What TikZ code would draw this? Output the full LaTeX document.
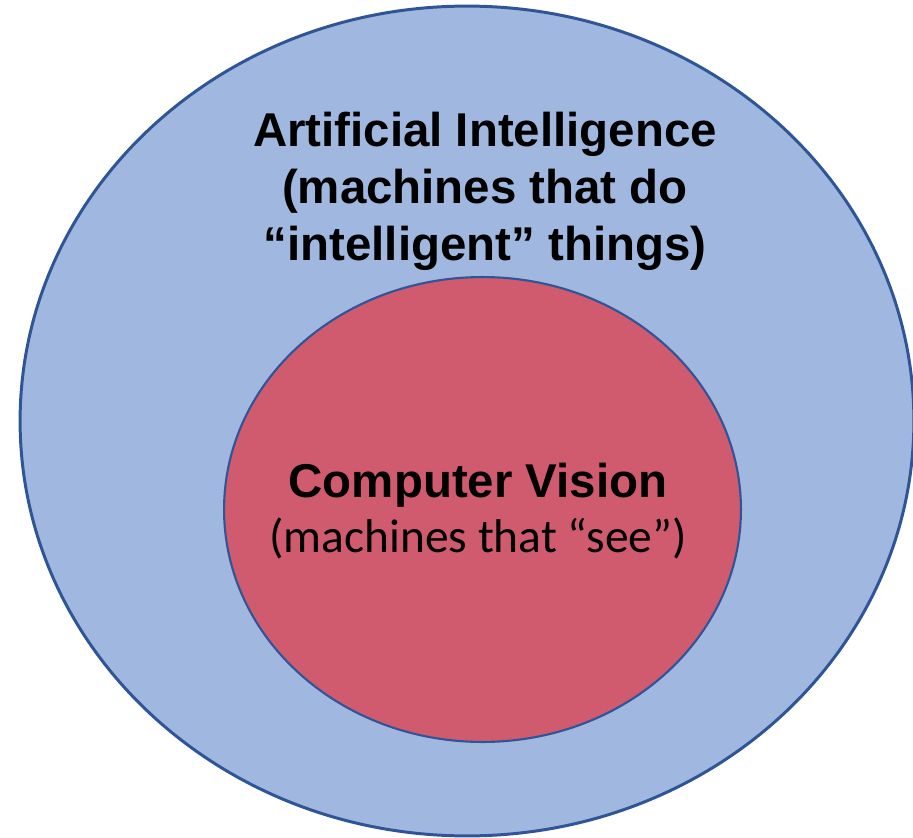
\documentclass[tikz,border=0pt]{standalone}
\usepackage{fontspec}
\usetikzlibrary{shapes.geometric}

\newfontfamily\arialfont{Liberation Sans}
\newfontfamily\calibrifont{Carlito}

\definecolor{aiblue}{RGB}{160,183,224}
\definecolor{cvred}{RGB}{208,90,110}
\definecolor{rimblue}{RGB}{47,85,151}

\begin{document}
\begin{tikzpicture}[
  x=0.02cm, y=-0.02cm,
  field/.style={ellipse, draw=rimblue, inner sep=0pt},
  label/.style={align=center, inner sep=0pt, font=\fontsize{27}{32.4}\selectfont}
]
\useasboundingbox (0,0) rectangle (913,838);

% the two nested fields
\node[field, fill=aiblue, line width=1.7pt,
      minimum width=17.88cm, minimum height=16.6cm] (ai) at (467,421) {};
\node[field, fill=cvred, line width=1.2pt,
      minimum width=10.34cm, minimum height=9.3cm] (cv) at (482.5,509.5) {};

% captions (base sits on the last line)
\node[label, anchor=base, font=\arialfont\bfseries\fontsize{27}{32.4}\selectfont]
  (aitext) at (485,260)
  {Artificial Intelligence\\(machines that do\\“intelligent” things)};
\node[label, anchor=base, font=\arialfont\bfseries\fontsize{27}{32.4}\selectfont]
  (cvtext) at (478,497) {Computer Vision};
\node[label, anchor=base, font=\calibrifont\fontsize{27}{32.4}\selectfont]
  (cvsub) at (478,552) {(machines that “see”)};
\end{tikzpicture}
\end{document}
